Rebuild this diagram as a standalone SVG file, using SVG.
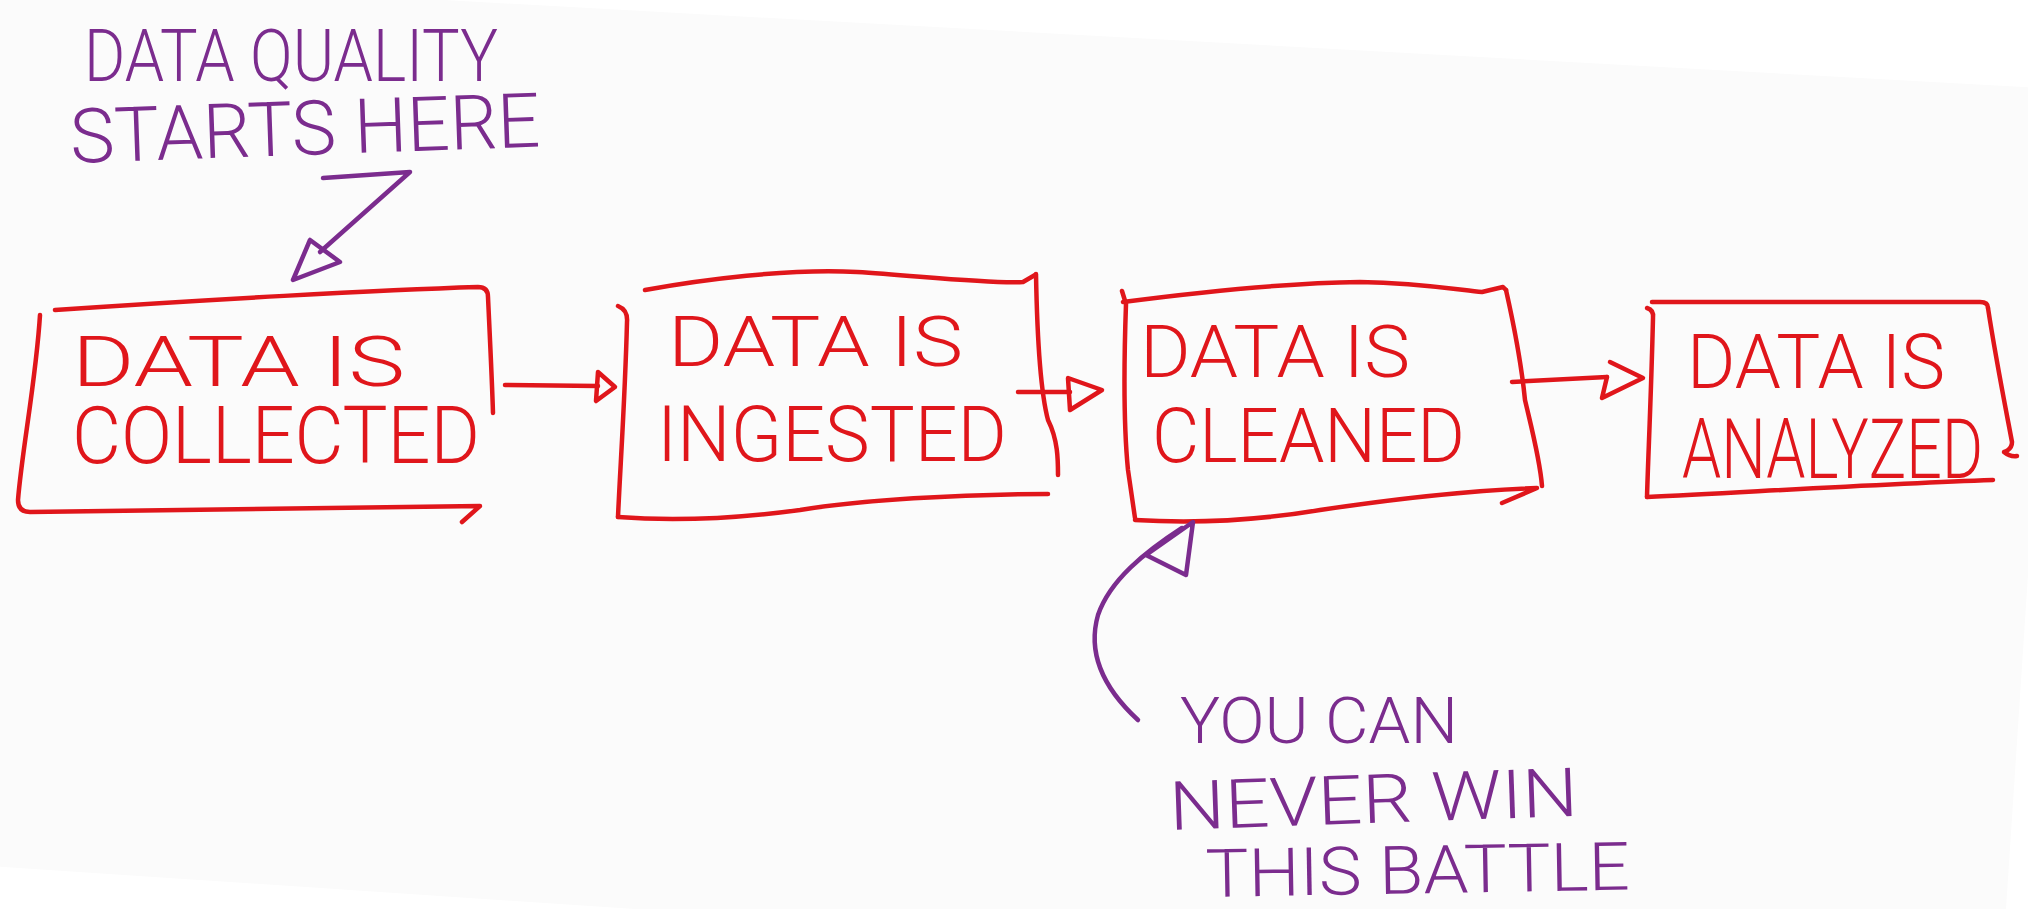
<svg xmlns="http://www.w3.org/2000/svg" width="2028" height="909" viewBox="0 0 2028 909">
  <style>
    .ink-red { fill: none; stroke: #e0161b; stroke-width: 4.5; stroke-linecap: round; stroke-linejoin: round; }
    .ink-purple { fill: none; stroke: #7b2c8e; stroke-width: 4.5; stroke-linecap: round; stroke-linejoin: round; }
    .label { font-family: Roboto, "Liberation Sans", sans-serif; font-weight: 300; }
    .label-red { fill: #e0161b; }
    .label-purple { fill: #7b2c8e; }
  </style>

  <!-- white page with the slightly tilted board on top -->
  <rect x="0" y="0" width="2028" height="909" fill="#ffffff"/>
  <polygon points="-10,-25 2060,89 2000,1000 -10,866" fill="#fbfbfb"/>

  <!-- annotation: where quality starts -->
  <g id="note-quality-starts">
    <text class="label label-purple" x="84" y="81" font-size="73" textLength="414" lengthAdjust="spacingAndGlyphs">DATA QUALITY</text>
    <text class="label label-purple" x="71" y="163" font-size="76" textLength="470" lengthAdjust="spacingAndGlyphs" transform="rotate(-2 71 163)">STARTS HERE</text>
  </g>

  <!-- step 1 -->
  <g id="node-collected">
    <path class="ink-red" d="M55,310 C200,300 380,290 478,287 Q488,287 488,297 C490,340 492,380 493,413"/>
    <path class="ink-red" d="M40,315 C36,380 22,450 18,500 Q18,512 30,512 C200,510 380,508 480,506 L462,522"/>
    <text class="label label-red" x="72" y="386" font-size="71" textLength="333" lengthAdjust="spacingAndGlyphs">DATA IS</text>
    <text class="label label-red" x="72" y="463" font-size="80" textLength="408" lengthAdjust="spacingAndGlyphs">COLLECTED</text>
  </g>

  <!-- step 2 -->
  <g id="node-ingested">
    <path class="ink-red" d="M645,290 C700,280 790,268 857,272 C920,276 990,284 1023,282 L1035,275"/>
    <path class="ink-red" d="M1036,274 C1037,330 1040,390 1048,420 C1058,440 1058,460 1058,475"/>
    <path class="ink-red" d="M618,306 Q628,310 627,322 C625,400 620,470 618,517"/>
    <path class="ink-red" d="M618,517 C680,522 740,518 800,510 C860,500 960,494 1048,494"/>
    <text class="label label-red" x="668" y="366" font-size="70" textLength="295" lengthAdjust="spacingAndGlyphs">DATA IS</text>
    <text class="label label-red" x="657" y="461" font-size="78" textLength="350" lengthAdjust="spacingAndGlyphs">INGESTED</text>
  </g>

  <!-- step 3 -->
  <g id="node-cleaned">
    <path class="ink-red" d="M1123,302 C1200,292 1280,283 1360,282 C1420,283 1460,290 1482,292 L1503,287 L1506,290"/>
    <path class="ink-red" d="M1122,291 L1126,304 C1124,360 1123,420 1128,470 L1135,518"/>
    <path class="ink-red" d="M1135,520 C1200,524 1260,520 1320,510 C1400,498 1480,490 1537,488 L1502,503"/>
    <path class="ink-red" d="M1506,290 C1515,330 1522,370 1525,400 C1532,430 1540,460 1542,486"/>
    <text class="label label-red" x="1140" y="377" font-size="72" textLength="270" lengthAdjust="spacingAndGlyphs">DATA IS</text>
    <text class="label label-red" x="1152" y="462" font-size="76" textLength="313" lengthAdjust="spacingAndGlyphs">CLEANED</text>
  </g>

  <!-- step 4 -->
  <g id="node-analyzed">
    <path class="ink-red" d="M1652,302 L1980,302 Q1988,302 1988,308"/>
    <path class="ink-red" d="M1988,308 C1996,360 2006,410 2012,442 C2012,450 2004,452 2004,452 Q2010,457 2017,456"/>
    <path class="ink-red" d="M1647,308 Q1654,310 1653,318 C1651,400 1648,460 1647,497"/>
    <path class="ink-red" d="M1647,497 C1750,492 1880,484 1993,480"/>
    <text class="label label-red" x="1687" y="388" font-size="76" textLength="258" lengthAdjust="spacingAndGlyphs">DATA IS</text>
    <text class="label label-red" x="1682" y="478" font-size="84" textLength="301" lengthAdjust="spacingAndGlyphs">ANALYZED</text>
  </g>

  <!-- annotation: the cleaning battle -->
  <g id="note-never-win">
    <text class="label label-purple" x="1180" y="743" font-size="64" textLength="278" lengthAdjust="spacingAndGlyphs">YOU CAN</text>
    <text class="label label-purple" x="1170" y="830" font-size="68" textLength="409" lengthAdjust="spacingAndGlyphs" transform="rotate(-2 1170 830)">NEVER WIN</text>
    <text class="label label-purple" x="1206" y="897" font-size="67" textLength="424" lengthAdjust="spacingAndGlyphs" transform="rotate(-1 1206 897)">THIS BATTLE</text>
  </g>

  <!-- connectors -->
  <g id="connectors">
    <path class="ink-red" d="M505,385 L598,386"/>
    <path class="ink-red" d="M598,372 L615,387 L596,401 Z"/>
    <path class="ink-red" d="M1018,392 L1070,392"/>
    <path class="ink-red" d="M1068,378 L1102,390 L1070,410 Z"/>
    <path class="ink-red" d="M1512,382 L1607,377"/>
    <path class="ink-red" d="M1610,362 L1643,378 L1602,398 L1607,377"/>
    <path class="ink-purple" d="M323,178 L410,172 L320,252"/>
    <path class="ink-purple" d="M310,240 L293,280 L340,262 Z"/>
    <path class="ink-purple" d="M1138,720 C1100,685 1088,650 1098,615 C1110,580 1145,552 1182,528"/>
    <path class="ink-purple" d="M1146,555 L1193,522 L1186,575 Z"/>
  </g>
</svg>
